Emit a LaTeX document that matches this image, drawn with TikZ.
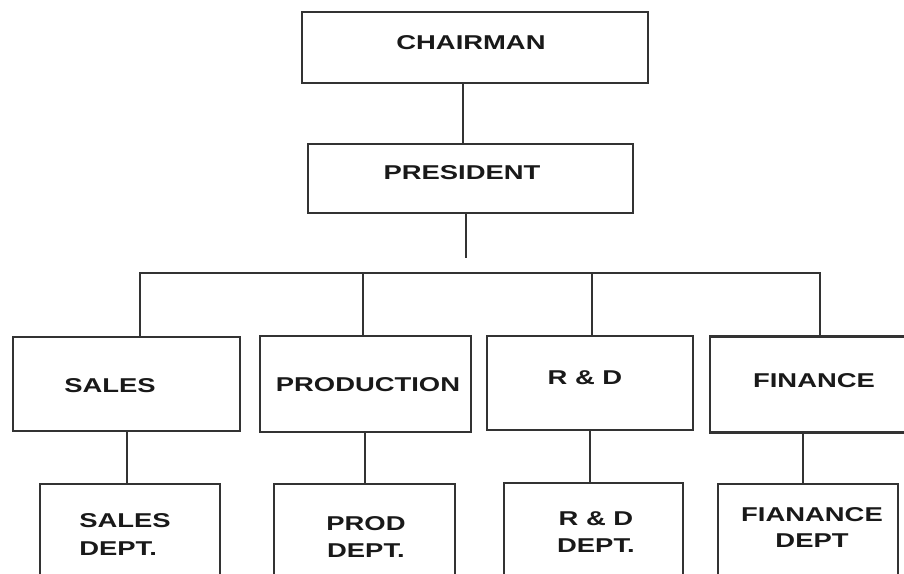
\documentclass[tikz,border=0pt]{standalone}
\usepackage{fontspec}
\setmainfont{Liberation Sans}
\usepackage{graphicx}
\tikzset{
  box/.style={draw=black!80, line width=2.3pt, fill=white, inner sep=0pt},
  wire/.style={draw=black!80, line width=2.3pt},
  lbl/.style={font=\fontsize{20}{25}\selectfont\bfseries, text=black!90, align=center, inner sep=0pt}
}
\newcommand{\wide}[1]{\scalebox{1.37}[1]{#1}}
\begin{document}
\begin{tikzpicture}[x=1pt,y=-1pt]
\useasboundingbox (0,0) rectangle (904,573);
\clip (0,0) rectangle (904,573);
\fill[white] (0,0) rectangle (904,573);

% boxes (corner coordinates in px, y downward)
\node[box, minimum width=346pt, minimum height=71pt] (chair) at (475,47.5) {};
\node[box, minimum width=325pt, minimum height=69pt] (pres) at (470.5,178.5) {};

\node[box, minimum width=227pt, minimum height=94pt] (sales) at (126.5,384) {};
\node[box, minimum width=211pt, minimum height=96pt] (prod) at (365.5,384) {};
\node[box, minimum width=206pt, minimum height=94pt] (rnd) at (590,383) {};
\node[box, minimum width=210pt, minimum height=96pt] (fin) at (815,384.5) {};

\node[box, minimum width=180pt, minimum height=140pt, anchor=north] (salesd) at (130,483) {};
\node[box, minimum width=181pt, minimum height=140pt, anchor=north] (prodd) at (364.5,483) {};
\node[box, minimum width=179pt, minimum height=140pt, anchor=north] (rndd) at (593.5,482) {};
\node[box, minimum width=180pt, minimum height=140pt, anchor=north] (find) at (808,483) {};

% labels
\node[lbl] (tchair) at (471,43) {\wide{CHAIRMAN}};
\node[lbl] (tpres) at (462,173) {\wide{PRESIDENT}};
\node[lbl] (tsales) at (110,386) {\wide{SALES}};
\node[lbl] (tprod) at (368,385) {\wide{PRODUCTION}};
\node[lbl] (trnd) at (585,378) {\wide{R \& D}};
\node[lbl] (tfin) at (814,381) {\wide{FINANCE}};
\node[lbl, align=left] (tsalesd) at (125,535) {\wide{SALES}\\[3pt]\wide{DEPT.}};
\node[lbl] (tprodd) at (366,537) {\wide{PROD}\\[2pt]\wide{DEPT.}};
\node[lbl] (trndd) at (596,532) {\wide{R \& D}\\[2pt]\wide{DEPT.}};
\node[lbl] (tfind) at (812,528) {\wide{FIANANCE}\\[1pt]\wide{DEPT}};

% connectors
\coordinate (presend) at (pres.south -| 466,0);
\coordinate (stub) at (466,258);
\coordinate (busL) at (140,273);
\coordinate (busR) at (820,273);
\draw[wire] (chair.south -| 463,0) -- (pres.north -| 463,0);
\draw[wire] (presend) -- (stub);
\draw[wire] (sales.north -| busL) -- (busL) -- (busR) -- (fin.north -| busR);
\draw[wire] (prod.north -| 363,0) -- (363,273);
\draw[wire] (rnd.north -| 592,0) -- (592,273);

\draw[wire] (sales.south -| 127,0) -- (salesd.north -| 127,0);
\draw[wire] (prod.south -| 365,0) -- (prodd.north -| 365,0);
\draw[wire] (rnd.south -| 590,0) -- (rndd.north -| 590,0);
\draw[wire] (fin.south -| 803,0) -- (find.north -| 803,0);
\end{tikzpicture}
\end{document}
